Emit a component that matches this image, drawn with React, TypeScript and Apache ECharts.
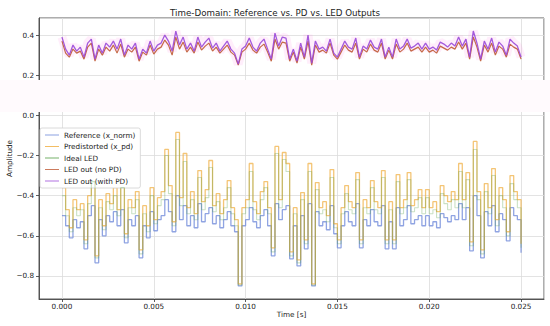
import React, { useEffect, useRef } from "react";
import * as echarts from "echarts";

const DT = 0.0002;

const reference = [
  -0.50, -0.55, -0.61, -0.52, -0.56, -0.53, -0.665, -0.50, -0.45, -0.735,
  -0.52, -0.60, -0.50, -0.53, -0.48, -0.55, -0.47, -0.635, -0.52, -0.55,
  -0.50, -0.71, -0.55, -0.61, -0.48, -0.575, -0.52, -0.50, -0.42, -0.48,
  -0.58, -0.40, -0.52, -0.45, -0.55, -0.50, -0.56, -0.44, -0.53, -0.49,
  -0.46, -0.54, -0.50, -0.56, -0.52, -0.48, -0.55, -0.58, -0.85, -0.55,
  -0.52, -0.46, -0.53, -0.56, -0.50, -0.47, -0.55, -0.70, -0.44, -0.52,
  -0.47, -0.45, -0.715, -0.55, -0.75, -0.50, -0.665, -0.44, -0.85, -0.48,
  -0.55, -0.53, -0.57, -0.45, -0.59, -0.66, -0.55, -0.48, -0.53, -0.55,
  -0.44, -0.66, -0.52, -0.55, -0.47, -0.53, -0.55, -0.45, -0.665, -0.53,
  -0.665, -0.46, -0.55, -0.52, -0.45, -0.54, -0.52, -0.50, -0.55, -0.50,
  -0.55, -0.53, -0.56, -0.49, -0.51, -0.53, -0.50, -0.52, -0.44, -0.52,
  -0.46, -0.675, -0.40, -0.50, -0.71, -0.48, -0.55, -0.45, -0.58, -0.49,
  -0.52, -0.625, -0.46, -0.50, -0.52, -0.685,
];

const predistorted = [
  -0.36, -0.47, -0.56, -0.42, -0.47, -0.44, -0.62, -0.40, -0.30, -0.70,
  -0.42, -0.55, -0.39, -0.44, -0.36, -0.47, -0.325, -0.59, -0.42, -0.46,
  -0.38, -0.67, -0.45, -0.55, -0.36, -0.52, -0.41, -0.38, -0.17, -0.35,
  -0.53, -0.085, -0.41, -0.19, -0.46, -0.38, -0.49, -0.275, -0.43, -0.37,
  -0.225, -0.45, -0.39, -0.49, -0.42, -0.325, -0.46, -0.52, -0.84, -0.46,
  -0.42, -0.24, -0.43, -0.49, -0.38, -0.33, -0.46, -0.66, -0.155, -0.42,
  -0.185, -0.24, -0.68, -0.46, -0.72, -0.385, -0.62, -0.24, -0.84, -0.335,
  -0.46, -0.43, -0.50, -0.27, -0.54, -0.62, -0.46, -0.35, -0.43, -0.46,
  -0.285, -0.62, -0.42, -0.46, -0.325, -0.43, -0.46, -0.275, -0.62, -0.43,
  -0.62, -0.295, -0.46, -0.42, -0.285, -0.45, -0.42, -0.37, -0.46, -0.37,
  -0.46, -0.43, -0.48, -0.35, -0.40, -0.43, -0.38, -0.42, -0.24, -0.42,
  -0.285, -0.63, -0.13, -0.38, -0.67, -0.34, -0.46, -0.265, -0.52, -0.36,
  -0.42, -0.58, -0.30, -0.38, -0.42, -0.64,
];

const idealLed = [
  -0.40, -0.50, -0.58, -0.46, -0.50, -0.47, -0.64, -0.44, -0.33, -0.71,
  -0.46, -0.57, -0.43, -0.47, -0.40, -0.50, -0.36, -0.61, -0.46, -0.49,
  -0.42, -0.69, -0.49, -0.58, -0.40, -0.54, -0.45, -0.42, -0.20, -0.39,
  -0.55, -0.12, -0.45, -0.23, -0.49, -0.42, -0.52, -0.31, -0.47, -0.41,
  -0.26, -0.48, -0.43, -0.52, -0.46, -0.36, -0.49, -0.55, -0.845, -0.49,
  -0.46, -0.28, -0.47, -0.52, -0.42, -0.36, -0.49, -0.68, -0.19, -0.46,
  -0.22, -0.28, -0.70, -0.49, -0.735, -0.42, -0.64, -0.28, -0.845, -0.37,
  -0.49, -0.47, -0.53, -0.31, -0.56, -0.64, -0.49, -0.39, -0.47, -0.49,
  -0.32, -0.64, -0.46, -0.49, -0.36, -0.47, -0.49, -0.31, -0.64, -0.47,
  -0.64, -0.33, -0.49, -0.46, -0.32, -0.48, -0.46, -0.41, -0.49, -0.41,
  -0.49, -0.47, -0.51, -0.39, -0.44, -0.47, -0.42, -0.46, -0.28, -0.46,
  -0.32, -0.65, -0.17, -0.42, -0.69, -0.38, -0.49, -0.30, -0.55, -0.40,
  -0.46, -0.60, -0.34, -0.42, -0.46, -0.66,
];

const ledNoPd = [
  0.37, 0.31, 0.29, 0.33, 0.31, 0.32, 0.28, 0.34, 0.36, 0.27,
  0.33, 0.30, 0.34, 0.32, 0.35, 0.31, 0.355, 0.29, 0.33, 0.315,
  0.34, 0.27, 0.315, 0.30, 0.35, 0.305, 0.33, 0.34, 0.375, 0.35,
  0.30, 0.39, 0.33, 0.365, 0.315, 0.34, 0.31, 0.365, 0.325, 0.345,
  0.36, 0.32, 0.34, 0.31, 0.33, 0.35, 0.315, 0.30, 0.25, 0.315,
  0.33, 0.36, 0.325, 0.31, 0.34, 0.355, 0.315, 0.27, 0.38, 0.33,
  0.365, 0.36, 0.27, 0.315, 0.26, 0.34, 0.28, 0.37, 0.25, 0.35,
  0.315, 0.325, 0.31, 0.36, 0.30, 0.28, 0.315, 0.35, 0.325, 0.315,
  0.36, 0.28, 0.33, 0.315, 0.355, 0.325, 0.315, 0.36, 0.28, 0.325,
  0.28, 0.355, 0.315, 0.33, 0.36, 0.32, 0.33, 0.34, 0.315, 0.34,
  0.315, 0.325, 0.31, 0.345, 0.335, 0.325, 0.34, 0.33, 0.365, 0.33,
  0.36, 0.28, 0.39, 0.34, 0.27, 0.35, 0.315, 0.36, 0.30, 0.345,
  0.33, 0.29, 0.355, 0.34, 0.33, 0.28,
];

const ledWithPd = [
  0.39, 0.33, 0.30, 0.35, 0.32, 0.34, 0.29, 0.36, 0.38, 0.28,
  0.35, 0.31, 0.36, 0.34, 0.37, 0.33, 0.38, 0.30, 0.35, 0.33,
  0.36, 0.28, 0.33, 0.31, 0.37, 0.32, 0.35, 0.36, 0.40, 0.37,
  0.32, 0.42, 0.35, 0.39, 0.33, 0.36, 0.32, 0.39, 0.34, 0.365,
  0.385, 0.335, 0.36, 0.32, 0.345, 0.37, 0.33, 0.31, 0.255, 0.33,
  0.345, 0.385, 0.34, 0.32, 0.36, 0.38, 0.33, 0.28, 0.41, 0.345,
  0.39, 0.385, 0.28, 0.33, 0.27, 0.36, 0.29, 0.40, 0.26, 0.37,
  0.33, 0.34, 0.32, 0.38, 0.31, 0.29, 0.33, 0.37, 0.34, 0.33,
  0.385, 0.29, 0.345, 0.33, 0.375, 0.34, 0.33, 0.38, 0.29, 0.34,
  0.29, 0.38, 0.33, 0.345, 0.38, 0.335, 0.345, 0.36, 0.33, 0.36,
  0.33, 0.34, 0.325, 0.365, 0.355, 0.34, 0.36, 0.345, 0.39, 0.345,
  0.38, 0.29, 0.42, 0.36, 0.28, 0.37, 0.33, 0.385, 0.315, 0.365,
  0.345, 0.30, 0.38, 0.36, 0.345, 0.29,
];

const legendNames = [
  "Reference (x_norm)",
  "Predistorted (x_pd)",
  "Ideal LED",
  "LED out (no PD)",
  "LED out (with PD)",
];

const pairs = (arr: number[]) => arr.map((v, i) => [i * DT, v]);

const fmtY = (v: number) => {
  const s = v.toFixed(1);
  return s.startsWith("-") ? "\u2212" + s.slice(1) : s;
};

function lineSeries(name: string, data: number[], color: string, width: number, opacity: number, z: number, step?: string) {
  return {
    name,
    type: "line",
    step: step || false,
    symbol: "none",
    data: pairs(data),
    itemStyle: { color, opacity: 0.8 },
    lineStyle: { color, width, opacity },
    z,
  };
}

export default function App() {
  const ref = useRef<HTMLDivElement>(null);
  useEffect(() => {
    document.body.style.margin = "0";
    if (!ref.current) return;
    const chart = echarts.init(ref.current, null, { renderer: "svg" });
    const font = "DejaVu Sans";
    const axisCol = "#333";
    chart.setOption({
      animation: false,
      backgroundColor: "#fff",
      textStyle: { fontFamily: font },
      title: {
        text: "Time-Domain: Reference vs. PD vs. LED Outputs",
        left: "center",
        top: 3,
        textStyle: { fontFamily: font, fontSize: 8.7, fontWeight: "normal", color: "#222" },
      },
      grid: {
        left: 39,
        right: 6,
        top: 18,
        bottom: 27,
        containLabel: false,
        outerBoundsMode: "none",
        show: true,
        borderColor: axisCol,
        borderWidth: 0.8,
        backgroundColor: "transparent",
      },
      legend: {
        data: legendNames,
        orient: "vertical",
        left: 40,
        top: 128,
        icon: "path://M0,0H20V1.4H0Z",
        itemWidth: 14,
        itemHeight: 8,
        itemGap: 3.5,
        padding: [3, 5, 3, 5],
        backgroundColor: "#fff",
        borderColor: "#d0d0d0",
        borderWidth: 0.8,
        borderRadius: 2,
        selectedMode: false,
        textStyle: { fontFamily: font, fontSize: 7.25, color: "#222", lineHeight: 8 },
      },
      xAxis: {
        type: "value",
        min: -0.00125,
        max: 0.02625,
        splitNumber: 5,
        name: "Time [s]",
        nameLocation: "middle",
        nameGap: 12,
        nameMoveOverlap: false,
        nameTextStyle: { fontFamily: font, fontSize: 7.25, color: "#222" },
        axisLine: { show: true, onZero: false, lineStyle: { color: axisCol, width: 0.8 } },
        axisTick: { show: true, length: 3, lineStyle: { color: axisCol, width: 0.8 } },
        axisLabel: {
          showMinLabel: false,
          showMaxLabel: false,
          fontFamily: font,
          fontSize: 7.25,
          color: "#222",
          margin: 4,
          formatter: (v: number) => v.toFixed(3),
        },
        splitLine: { show: true, lineStyle: { color: "#dcdcdc", width: 0.8 } },
      },
      yAxis: {
        type: "value",
        min: -0.915,
        max: 0.485,
        splitNumber: 7,
        name: "Amplitude",
        nameLocation: "middle",
        nameGap: 26,
        nameMoveOverlap: false,
        nameTextStyle: { fontFamily: font, fontSize: 7.25, color: "#222" },
        axisLine: { show: true, onZero: false, lineStyle: { color: axisCol, width: 0.8 } },
        axisTick: { show: true, length: 3, lineStyle: { color: axisCol, width: 0.8 } },
        axisLabel: {
          showMinLabel: false,
          showMaxLabel: false,
          fontFamily: font,
          fontSize: 7.25,
          color: "#222",
          margin: 5,
          formatter: fmtY,
        },
        splitLine: { show: true, lineStyle: { color: "#dcdcdc", width: 0.8 } },
      },
      series: [
        lineSeries(legendNames[0], reference, "#6b86d8", 1.3, 0.75, 2, "end"),
        lineSeries(legendNames[1], predistorted, "#f0ad3c", 1.3, 0.7, 3, "end"),
        lineSeries(legendNames[2], idealLed, "#4f9a3e", 1.1, 0.3, 4, "end"),
        lineSeries("halo", ledWithPd, "#ff70e0", 9, 0.12, 4),
        lineSeries(legendNames[3], ledNoPd, "#bf5a35", 1.2, 0.9, 5),
        lineSeries(legendNames[4], ledWithPd, "#9a48d8", 1.3, 0.9, 6),
      ],
      graphic: [
        {
          type: "rect",
          left: 0,
          top: 80,
          shape: { width: 550, height: 32 },
          style: { fill: "#fffafd" },
          z: 100,
          silent: true,
        },
      ],
    });
    return () => chart.dispose();
  }, []);
  return (
    <div style={{ position: "absolute", left: 0, top: 0 }}>
      <div ref={ref} style={{ width: 550, height: 326 }} />
    </div>
  );
}
